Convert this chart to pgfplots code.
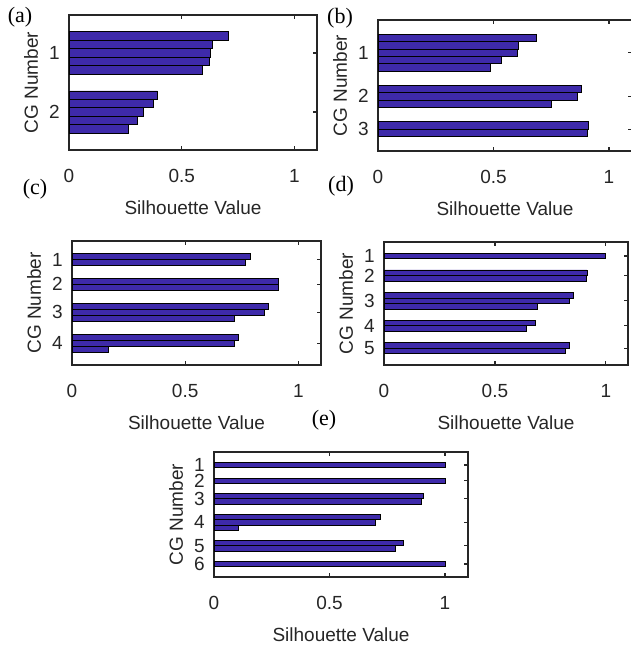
\documentclass[border=0pt]{standalone}
\usepackage{fontspec}
\setmainfont{Liberation Sans}
\newfontfamily\serifletters{Liberation Serif}
\usepackage{pgfplots}
\pgfplotsset{compat=1.18}
\definecolor{barblue}{RGB}{62,42,170}
\definecolor{axgray}{RGB}{38,38,38}
\newcommand{\lblfont}{\fontsize{19}{19}\selectfont}
\pgfplotsset{
  sil/.style={
    scale only axis, anchor=north west,
    xbar, bar width=1, bar shift=0pt,
    xmin=0, xmax=1.1, y dir=reverse,
    xtick={0,0.5,1}, xticklabels={0,0.5,1},
    xtick pos=both, ytick pos=both, tick align=inside,
    major tick length=4pt,
    every tick/.style={axgray, line width=1.2pt},
    axis line style={axgray, line width=1.5pt},
    tick label style={font=\lblfont, text=axgray, inner sep=0pt},
    xticklabel style={anchor=center, yshift=-26pt},
    yticklabel style={anchor=east, xshift=-9pt, text height=13pt, text depth=0pt},
    every axis x label/.style={at={(axis description cs:0.5,0)}, yshift=-58pt, anchor=center, font=\lblfont, text=axgray},
    every axis y label/.style={at={(axis description cs:0,0.5)}, xshift=-38pt, rotate=90, anchor=center, font=\lblfont, text=axgray},
    xlabel={Silhouette Value}, ylabel={CG Number},
  },
  silbar/.style={fill=barblue, draw=black, line width=0.8pt},
}
\begin{document}
\begin{tikzpicture}
\useasboundingbox (0,0) rectangle (630pt,-647pt);
% (a)
\begin{axis}[sil, at={(69pt,-15pt)}, width=248pt, height=135pt,
  ymin=0.5, ymax=16.5, ytick={5,12}, yticklabels={1,2}]
\addplot[silbar] coordinates {(0.709,3) (0.634,4) (0.628,5) (0.621,6) (0.590,7)
  (0.392,10) (0.373,11) (0.329,12) (0.302,13) (0.265,14)};
\end{axis}
% (b)
\begin{axis}[sil, at={(378pt,-20pt)}, width=254pt, height=131pt,
  ymin=0.5, ymax=18.5, ytick={5,11,15.5}, yticklabels={1,2,3}]
\addplot[silbar] coordinates {(0.686,3) (0.610,4) (0.605,5) (0.534,6) (0.485,7)
  (0.879,10) (0.863,11) (0.749,12) (0.913,15) (0.906,16)};
\end{axis}
% (c)
\begin{axis}[sil, at={(72pt,-241pt)}, width=249pt, height=124pt,
  ymin=0.5, ymax=20.5, ytick={3.5,7.5,12,17}, yticklabels={1,2,3,4}]
\addplot[silbar] coordinates {(0.789,3) (0.767,4) (0.914,7) (0.910,8)
  (0.866,11) (0.848,12) (0.718,13) (0.733,16) (0.718,17) (0.162,18)};
\end{axis}
% (d)
\begin{axis}[sil, at={(384pt,-242pt)}, width=244pt, height=123pt,
  ymin=0.5, ymax=22.5, ytick={3,6.5,11,15.5,19.5}, yticklabels={1,2,3,4,5}]
\addplot[silbar] coordinates {(1.0,3) (0.915,6) (0.911,7)
  (0.855,10) (0.834,11) (0.693,12) (0.684,15) (0.642,16) (0.837,19) (0.819,20)};
\end{axis}
% (e)
\begin{axis}[sil, at={(214pt,-452pt)}, width=254pt, height=125pt,
  ymin=0.5, ymax=24.5, ytick={3,6,9.5,14,18.5,22}, yticklabels={1,2,3,4,5,6}]
\addplot[silbar] coordinates {(1.0,3) (1.0,6) (0.907,9) (0.896,10)
  (0.719,13) (0.700,14) (0.106,15) (0.819,18) (0.787,19) (1.0,22)};
\end{axis}
\begin{scope}[every node/.style={font=\serifletters\fontsize{22}{22}\selectfont, text=black}]
\node at (20pt,-17pt) {(a)};
\node at (340pt,-18pt) {(b)};
\node at (35pt,-189pt) {(c)};
\node at (341pt,-186pt) {(d)};
\node at (324pt,-420pt) {(e)};
\end{scope}
\end{tikzpicture}
\end{document}
